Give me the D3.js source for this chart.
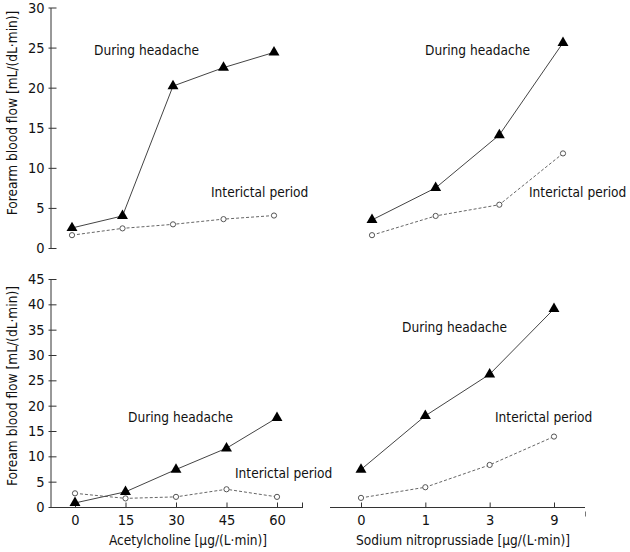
<!DOCTYPE html>
<html><head><meta charset="utf-8">
<script src="https://cdn.jsdelivr.net/npm/d3@7"></script>
<style>
body{margin:0;background:#fff}
svg text{font-family:"DejaVu Sans Condensed","DejaVu Sans",sans-serif;font-stretch:condensed;fill:#111}
</style></head><body>
<svg id="c" width="630" height="552"></svg>
<script>
// ---------- data ----------
const achDoses = ["0", "15", "30", "45", "60"];
const snpDoses = ["0", "1", "3", "9"];
const topYTicks = [0, 5, 10, 15, 20, 25, 30];
const bottomYTicks = [0, 5, 10, 15, 20, 25, 30, 35, 40, 45];

const achTopHeadache   = [2.5, 4.0, 20.2, 22.5, 24.4];
const achTopInterictal = [1.6, 2.45, 2.95, 3.6, 4.05];
const snpTopHeadache   = [3.5, 7.5, 14.1, 25.6];
const snpTopInterictal = [1.6, 4.0, 5.4, 11.8];

const achBottomHeadache   = [0.8, 3.0, 7.4, 11.6, 17.6];
const achBottomInterictal = [2.7, 1.7, 2.0, 3.5, 2.0];
const snpBottomHeadache   = [7.4, 18.0, 26.2, 39.1];
const snpBottomInterictal = [1.8, 3.9, 8.3, 13.9];

const yLabelTop = "Forearm blood flow [mL/(dL\u00B7min)]";
const yLabelBottom = "Foream blood flow [mL/(dL\u00B7min)]";
const xLabelAch = "Acetylcholine [\u03BCg/(L\u00B7min)]";
const xLabelSnp = "Sodium nitroprussiade [\u03BCg/(L\u00B7min)]";
const headacheLabel = "During headache";
const interictalLabel = "Interictal period";

// ---------- scales ----------
const svg = d3.select("#c");
const yTop = d3.scaleLinear().domain([0, 30]).range([248, 7.5]);
const yBot = d3.scaleLinear().domain([0, 45]).range([507, 279]);
const xTL = d3.scalePoint().domain(achDoses).range([72, 274]);
const xBL = d3.scalePoint().domain(achDoses).range([75, 277]);
const xTR = d3.scalePoint().domain(snpDoses).range([372, 563]);
const xBR = d3.scalePoint().domain(snpDoses).range([361, 554]);

const tickFont = "14.5px";
const labelFont = "13.6px";

// ---------- axes ----------
function yAxis(scale, ticks, x) {
  const g = svg.append("g").attr("transform", `translate(${x},0)`)
    .call(d3.axisLeft(scale).tickValues(ticks).tickSizeInner(-6).tickSizeOuter(0).tickPadding(6));
  g.select(".domain").attr("stroke", "#333");
  g.selectAll(".tick line").attr("stroke", "#333").attr("x1", -2);
  g.selectAll(".tick text").style("font-size", tickFont).attr("fill", "#111");
  return g;
}
yAxis(yTop, topYTicks, 50.5);
yAxis(yBot, bottomYTicks, 50.5);

function xAxis(scale, y, x0, x1) {
  const g = svg.append("g").attr("transform", `translate(0,${y})`)
    .call(d3.axisBottom(scale).tickSizeInner(-5).tickSizeOuter(0).tickPadding(7));
  g.select(".domain").remove();
  g.append("line").attr("x1", x0).attr("x2", x1).attr("stroke", "#333");
  g.selectAll(".tick line").attr("stroke", "#333");
  g.selectAll(".tick text").style("font-size", tickFont).attr("fill", "#111");
  return g;
}
const gxl = xAxis(xBL, 507.5, 50.5, 303);
gxl.append("line").attr("x1", 302.5).attr("x2", 302.5).attr("y1", 0).attr("y2", -5).attr("stroke", "#333");
const gxr = xAxis(xBR, 507.5, 330, 585);
gxr.append("line").attr("x1", 585.5).attr("x2", 585.5).attr("y1", 4).attr("y2", 9).attr("stroke", "#777");

// axis titles
svg.append("text").attr("transform", `translate(17,113) rotate(-90)`).attr("text-anchor", "middle")
  .style("font-size", labelFont).text(yLabelTop);
svg.append("text").attr("transform", `translate(17,386) rotate(-90)`).attr("text-anchor", "middle")
  .style("font-size", labelFont).text(yLabelBottom);
svg.append("text").attr("x", 188).attr("y", 545).attr("text-anchor", "middle")
  .style("font-size", labelFont).text(xLabelAch);
svg.append("text").attr("x", 463).attr("y", 545).attr("text-anchor", "middle")
  .style("font-size", labelFont).text(xLabelSnp);

// ---------- series ----------
function series(x, y, cats, vals, kind) {
  const pts = cats.map((c, i) => [x(c), y(vals[i])]);
  const line = d3.line();
  svg.append("path").attr("d", line(pts)).attr("fill", "none")
    .attr("stroke", kind === "h" ? "#444" : "#666")
    .attr("stroke-width", 1)
    .attr("stroke-dasharray", kind === "h" ? null : "3,2");
  const g = svg.append("g");
  if (kind === "h") {
    g.selectAll("path").data(pts).join("path")
      .attr("d", d3.symbol(d3.symbolTriangle, 52)())
      .attr("transform", d => `translate(${d[0]},${d[1]})`)
      .attr("fill", "#000");
  } else {
    g.selectAll("circle").data(pts).join("circle")
      .attr("cx", d => d[0]).attr("cy", d => d[1]).attr("r", 2.6)
      .attr("fill", "#fff").attr("stroke", "#555").attr("stroke-width", 1);
  }
}
series(xTL, yTop, achDoses, achTopInterictal, "i");
series(xTL, yTop, achDoses, achTopHeadache, "h");
series(xTR, yTop, snpDoses, snpTopInterictal, "i");
series(xTR, yTop, snpDoses, snpTopHeadache, "h");
series(xBL, yBot, achDoses, achBottomInterictal, "i");
series(xBL, yBot, achDoses, achBottomHeadache, "h");
series(xBR, yBot, snpDoses, snpBottomInterictal, "i");
series(xBR, yBot, snpDoses, snpBottomHeadache, "h");

// ---------- annotations ----------
function note(x, y, t) {
  svg.append("text").attr("x", x).attr("y", y).style("font-size", labelFont).text(t);
}
note(94, 55, headacheLabel);
note(211, 197, interictalLabel);
note(425, 55, headacheLabel);
note(529, 197, interictalLabel);
note(128, 422, headacheLabel);
note(235, 478, interictalLabel);
note(402, 332, headacheLabel);
note(495, 422, interictalLabel);
</script>
</body></html>
